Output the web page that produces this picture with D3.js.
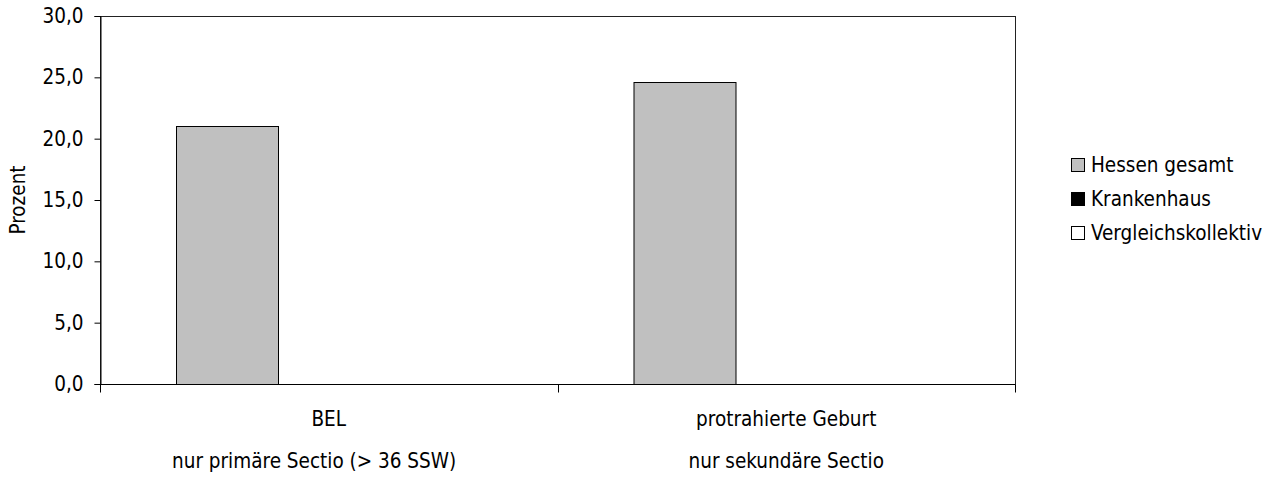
<!DOCTYPE html>
<html>
<head>
<meta charset="utf-8">
<script src="https://cdnjs.cloudflare.com/ajax/libs/d3/7.8.5/d3.min.js"></script>
<style>
  body { margin: 0; background: #fff; }
  text { font-family: "DejaVu Sans Condensed", "DejaVu Sans", sans-serif; fill: #000; }
</style>
</head>
<body>
<div class="container"></div>
<script>
// ---------- DATA ----------
var categories = ["BEL", "protrahierte Geburt"];
var subLabels = ["nur primäre Sectio (> 36 SSW)\u00a0\u00a0\u00a0\u00a0\u00a0", "nur sekundäre Sectio"];
var seriesNames = ["Hessen gesamt", "Krankenhaus", "Vergleichskollektiv"];
var seriesColors = ["#c0c0c0", "#000000", "#ffffff"];
var hessen = [21.0, 24.6];
var krankenhaus = [0, 0];
var vergleich = [0, 0];
var yTicks = [0, 5, 10, 15, 20, 25, 30];

var width = 1276,
    height = 485,
    margin = {top: 16, right: 261, bottom: 101, left: 100},
    plotW = width - margin.left - margin.right,
    plotH = height - margin.top - margin.bottom;

var fontSize = 20.5;

var svg = d3.select(".container").append("svg")
    .attr("width", width)
    .attr("height", height);

var g = svg.append("g")
    .attr("transform", "translate(" + margin.left + "," + margin.top + ")");

var x0 = d3.scaleBand()
    .domain(categories)
    .range([0, plotW]);

// Excel-ish gap width of 150%
var x1 = d3.scaleBand()
    .domain(seriesNames)
    .range([0, x0.bandwidth()])
    .paddingOuter(0.75)
    .paddingInner(0);

var y = d3.scaleLinear()
    .domain([0, 30])
    .range([plotH, 0]);

var fmt = function(d) { return d3.format(".1f")(d).replace(".", ","); };

// plot area border
g.append("rect")
    .attr("x", 0.5)
    .attr("y", 0.5)
    .attr("width", plotW)
    .attr("height", plotH)
    .attr("fill", "none")
    .attr("stroke", "#222")
    .attr("stroke-width", 1);

// bars
var rows = categories.map(function(c, i) {
  return [hessen[i], krankenhaus[i], vergleich[i]];
});

var groups = g.selectAll(".grp")
  .data(rows)
  .enter().append("g")
    .attr("class", "grp")
    .attr("transform", function(d, i) { return "translate(" + x0(categories[i]) + ",0)"; });

groups.selectAll("rect")
  .data(function(d) { return d.map(function(v, j) { return {v: v, s: seriesNames[j], c: seriesColors[j]}; }); })
  .enter().append("rect")
    .filter(function(d) { return d.v > 0; })
    .attr("x", function(d) { return Math.round(x1(d.s)) + 0.5; })
    .attr("y", function(d) { return Math.round(y(d.v)) + 0.5; })
    .attr("width", Math.round(x1.bandwidth()))
    .attr("height", function(d) { return Math.round(plotH - y(d.v)); })
    .attr("fill", function(d) { return d.c; })
    .attr("stroke", "#000")
    .attr("stroke-width", 1);

// y axis
var yAxis = g.append("g")
    .attr("transform", "translate(0.5,0)")
    .call(d3.axisLeft(y).tickValues(yTicks).tickFormat(fmt).tickSize(6).tickPadding(11));
yAxis.select(".domain").attr("stroke", "#000");
yAxis.selectAll(".tick line").attr("stroke", "#000");
yAxis.selectAll("text")
    .style("font-size", fontSize + "px")
    .attr("fill", "#000");

// x axis
var xAxis = g.append("g")
    .attr("transform", "translate(0," + (plotH + 0.5) + ")");
xAxis.append("line")
    .attr("x1", 0).attr("x2", plotW)
    .attr("stroke", "#000");
var bounds = categories.map(function(c) { return x0(c); }).concat([plotW]);
xAxis.selectAll(".xtick")
  .data(bounds)
  .enter().append("line")
    .attr("class", "xtick")
    .attr("x1", function(d) { return Math.round(d) + 0.5; })
    .attr("x2", function(d) { return Math.round(d) + 0.5; })
    .attr("y1", 0).attr("y2", 8)
    .attr("stroke", "#000");

xAxis.selectAll(".cat")
  .data(categories)
  .enter().append("text")
    .attr("class", "cat")
    .attr("x", function(d) { return x0(d) + x0.bandwidth() / 2; })
    .attr("y", 41)
    .attr("text-anchor", "middle")
    .style("font-size", fontSize + "px")
    .text(function(d) { return d; });

xAxis.selectAll(".sub")
  .data(subLabels)
  .enter().append("text")
    .attr("class", "sub")
    .attr("x", function(d, i) { return x0(categories[i]) + x0.bandwidth() / 2; })
    .attr("y", 83)
    .attr("text-anchor", "middle")
    .attr("xml:space", "preserve")
    .style("white-space", "pre")
    .style("font-size", fontSize + "px")
    .text(function(d) { return d; });

// y label
g.append("text")
    .attr("transform", "translate(" + (-75) + "," + (plotH / 2) + ") rotate(-90)")
    .attr("text-anchor", "middle")
    .style("font-size", fontSize + "px")
    .text("Prozent");

// legend
var legend = svg.append("g")
    .attr("transform", "translate(1071," + (margin.top + plotH / 2 - 35) + ")");

var items = legend.selectAll(".leg")
  .data(seriesNames)
  .enter().append("g")
    .attr("class", "leg")
    .attr("transform", function(d, i) { return "translate(0," + (i * 34) + ")"; });

items.append("rect")
    .attr("x", 0.5).attr("y", -6.5)
    .attr("width", 13).attr("height", 13)
    .attr("fill", function(d, i) { return seriesColors[i]; })
    .attr("stroke", "#000");

items.append("text")
    .attr("x", 20)
    .attr("y", 0)
    .attr("dy", "0.35em")
    .style("font-size", fontSize + "px")
    .text(function(d) { return d; });
</script>
</body>
</html>
